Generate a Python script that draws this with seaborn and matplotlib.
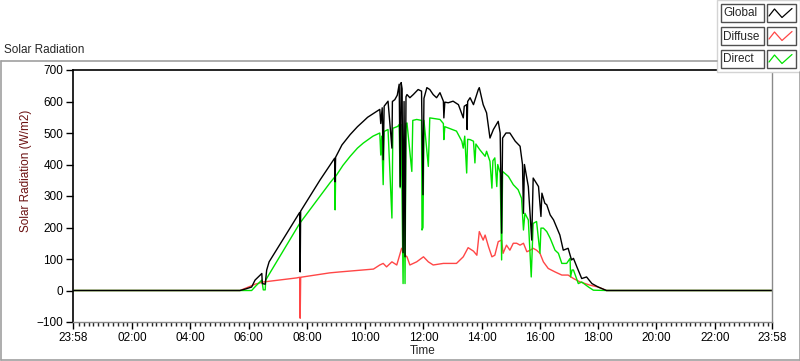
import pandas as pd
import seaborn as sns
import matplotlib.pyplot as plt
from matplotlib.lines import Line2D
from matplotlib.patches import Rectangle

# values (time of day, W/m2)
global_t = ["00:00", "05:42", "05:54", "06:06", "06:13", "06:27", "06:28", "06:34", "06:37", "06:42",
            "07:15", "07:45", "07:46", "07:47", "08:27", "08:57", "08:58", "08:59", "09:12", "09:29",
            "09:44", "09:56", "10:05", "10:15", "10:30", "10:32", "10:35", "10:37", "10:39", "10:47",
            "10:55", "10:56", "11:01", "11:06", "11:10", "11:12", "11:14", "11:16", "11:18", "11:20",
            "11:22", "11:24", "11:26", "11:32", "11:39", "11:49", "11:56", "11:59", "12:01", "12:07",
            "12:13", "12:20", "12:27", "12:34", "12:41", "12:42", "12:44", "12:51", "13:01", "13:12",
            "13:22", "13:24", "13:29", "13:30", "13:31", "13:36", "13:43", "13:53", "13:55", "14:00",
            "14:03", "14:10", "14:17", "14:24", "14:34", "14:38", "14:41", "14:43", "14:50", "14:58",
            "15:09", "15:19", "15:24", "15:26", "15:28", "15:36", "15:43", "15:46", "15:57", "16:02",
            "16:04", "16:10", "16:14", "16:21", "16:28", "16:41", "16:48", "16:58", "17:05", "17:09",
            "17:16", "17:26", "17:36", "17:47", "18:00", "18:17", "23:58"]
global_v = [0, 0, 5, 11, 33, 54, 22, 20, 65, 91,
            173, 248, 59, 252, 351, 420, 345, 423, 462, 495,
            520, 537, 550, 560, 575, 530, 580, 415, 585, 601,
            452, 600, 606, 620, 655, 330, 660, 640, 120, 600,
            107, 615, 622, 612, 622, 638, 633, 304, 610, 644,
            638, 622, 612, 628, 601, 548, 598, 596, 601, 590,
            548, 585, 590, 511, 600, 612, 590, 638, 644, 610,
            590, 564, 484, 511, 537, 500, 182, 484, 500, 500,
            474, 458, 400, 245, 400, 330, 160, 357, 330, 235,
            309, 277, 272, 240, 224, 176, 128, 134, 97, 102,
            75, 38, 43, 22, 11, 0, 0]

diffuse_t = ["00:00", "05:42", "06:09", "06:13", "06:30", "07:39", "07:45", "07:46", "07:47", "08:47",
             "09:08", "10:17", "10:30", "10:37", "10:44", "10:55", "11:05", "11:15", "11:22", "11:26",
             "11:32", "11:46", "12:00", "12:10", "12:20", "12:41", "13:08", "13:22", "13:32", "13:43",
             "13:50", "13:55", "14:03", "14:07", "14:14", "14:21", "14:27", "14:34", "14:41", "14:44",
             "14:51", "14:58", "15:05", "15:12", "15:19", "15:26", "15:33", "15:40", "15:46", "15:53",
             "16:00", "16:07", "16:17", "16:31", "16:45", "16:58", "17:09", "17:23", "17:43", "18:00",
             "18:17", "23:58"]
diffuse_v = [0, 0, 17, 20, 27, 40, 42, -88, 42, 56,
             59, 68, 81, 86, 75, 91, 81, 134, 112, 107,
             81, 91, 107, 91, 81, 86, 86, 107, 136, 125,
             112, 187, 160, 176, 139, 107, 112, 155, 160, 118,
             144, 128, 150, 150, 144, 150, 123, 128, 134, 128,
             118, 91, 70, 59, 49, 49, 38, 27, 17, 11,
             0, 0]

direct_t = ["00:00", "05:42", "06:06", "06:15", "06:27", "06:30", "06:34", "06:35", "06:43", "07:45",
            "08:47", "08:57", "08:58", "08:59", "09:14", "09:29", "09:44", "09:56", "10:16", "10:30",
            "10:32", "10:34", "10:37", "10:39", "10:47", "10:55", "10:57", "11:07", "11:10", "11:12",
            "11:14", "11:18", "11:20", "11:22", "11:24", "11:26", "11:36", "11:38", "11:46", "11:56",
            "11:57", "11:59", "12:01", "12:10", "12:13", "12:34", "12:41", "12:42", "12:44", "12:51",
            "13:08", "13:19", "13:22", "13:25", "13:29", "13:31", "13:36", "13:43", "13:46", "13:48",
            "13:56", "14:07", "14:10", "14:17", "14:21", "14:23", "14:27", "14:31", "14:33", "14:38",
            "14:41", "14:43", "14:55", "15:05", "15:15", "15:22", "15:26", "15:29", "15:36", "15:42",
            "15:46", "15:53", "16:00", "16:02", "16:07", "16:14", "16:21", "16:31", "16:38", "16:45",
            "16:55", "17:02", "17:03", "17:06", "17:09", "17:19", "17:26", "17:40", "17:50", "18:17",
            "23:58"]
direct_v = [0, 0, 0, 15, 33, 2, 2, 33, 54, 213,
            341, 360, 256, 362, 397, 426, 452, 468, 490, 500,
            430, 490, 336, 505, 511, 230, 515, 521, 527, 326,
            527, 22, 480, 22, 530, 532, 378, 540, 543, 540,
            192, 200, 540, 394, 548, 543, 530, 479, 520, 516,
            506, 474, 452, 490, 373, 480, 479, 474, 405, 465,
            447, 426, 442, 410, 325, 412, 421, 330, 400, 373,
            97, 378, 362, 336, 320, 293, 192, 245, 224, 43,
            213, 219, 118, 198, 198, 187, 166, 128, 118, 86,
            86, 102, 43, 65, 65, 22, 27, 11, 1, 0,
            0]

series_names = ["Global", "Diffuse", "Direct"]
series_colors = {"Global": "black", "Diffuse": "#ff4646", "Direct": "#00e400"}
tick_minutes = [-2, 120, 240, 360, 480, 600, 720, 840, 960, 1080, 1200, 1320, 1438]
tick_labels = ["23:58", "02:00", "04:00", "06:00", "08:00", "10:00", "12:00",
               "14:00", "16:00", "18:00", "20:00", "22:00", "23:58"]


def to_min(times):
    return [int(s[:2]) * 60 + int(s[3:]) for s in times]


frames = []
for name, t, v in [("Global", global_t, global_v), ("Diffuse", diffuse_t, diffuse_v),
                   ("Direct", direct_t, direct_v)]:
    frames.append(pd.DataFrame({"minute": to_min(t), "value": v, "series": name}))
df = pd.concat(frames, ignore_index=True)

sns.set_style("white")
plt.rcParams["font.family"] = ["Liberation Sans", "DejaVu Sans"]

W, H = 800, 361
fig = plt.figure(figsize=(8, 3.61), dpi=100)
ax = fig.add_axes([73 / W, 1 - 322 / H, 699 / W, 252 / H])

sns.lineplot(data=df, x="minute", y="value", hue="series", hue_order=["Diffuse", "Direct", "Global"],
             palette=series_colors, estimator=None, sort=False, linewidth=1.0, legend=False, ax=ax)

ax.set_xlim(-2, 1438)
ax.set_ylim(-100, 700)
ax.set_xticks(tick_minutes)
ax.set_xticklabels(tick_labels)
ax.set_xticks([m for m in range(10, 1438, 10) if m % 120 != 0], minor=True)
ax.set_yticks(range(-100, 701, 100))
ax.tick_params(axis="both", which="major", direction="out", length=5, width=1, labelsize=8.5,
               bottom=True, left=True, colors="black", pad=2)
ax.tick_params(axis="x", which="minor", direction="out", length=3, width=1, bottom=True)
ax.set_xlabel("Time", fontsize=8.5, labelpad=1)
ax.set_ylabel("Solar Radiation (W/m2)", fontsize=8.5, color="#6b1010", labelpad=6)
ax.yaxis.set_label_coords(-0.058, 0.6)
for side in ["top", "left"]:
    ax.spines[side].set_color("black")
    ax.spines[side].set_linewidth(1.2)
for side in ["bottom", "right"]:
    ax.spines[side].set_color("#8a8a8a")
    ax.spines[side].set_linewidth(1.0)


def px(x, y):
    return x / W, 1 - y / H


# outer panel frame
frame_col = "#a0a0a0"
for (x0, y0), (x1, y1) in [((0.5, 61), (717, 61)), ((0.5, 61), (0.5, 359.5)),
                           ((0.5, 359.5), (799.5, 359.5)), ((799.5, 72), (799.5, 359.5))]:
    a, b = px(x0, y0)
    c, d = px(x1, y1)
    fig.add_artist(Line2D([a, c], [b, d], color=frame_col, lw=1.2, transform=fig.transFigure))

fig.text(*px(4, 50), "Solar Radiation", fontsize=8.5, ha="left", va="center")

# legend panel
a, b = px(717, 72)
fig.add_artist(Rectangle((a, b), 83 / W, 72 / H, transform=fig.transFigure,
                         facecolor="white", edgecolor="#d4d4d4", lw=1))
for i, name in enumerate(series_names):
    top = 4 + i * 23
    a, b = px(720.5, top + 18)
    fig.add_artist(Rectangle((a, b), 43 / W, 18 / H, transform=fig.transFigure,
                             facecolor="white", edgecolor="#505050", lw=1))
    fig.text(*px(723, top + 9.5), name, fontsize=8.5, ha="left", va="center")
    a, b = px(766.5, top + 18)
    fig.add_artist(Rectangle((a, b), 29 / W, 18 / H, transform=fig.transFigure,
                             facecolor="white", edgecolor="#505050", lw=1))
    zx = [769, 774.5, 782, 792]
    zy = [top + 12, top + 5, top + 13.5, top + 4.5]
    pts = [px(x, y) for x, y in zip(zx, zy)]
    fig.add_artist(Line2D([p[0] for p in pts], [p[1] for p in pts], color=series_colors[name],
                          lw=0.9, transform=fig.transFigure))

fig.savefig("out.png", dpi=100)
